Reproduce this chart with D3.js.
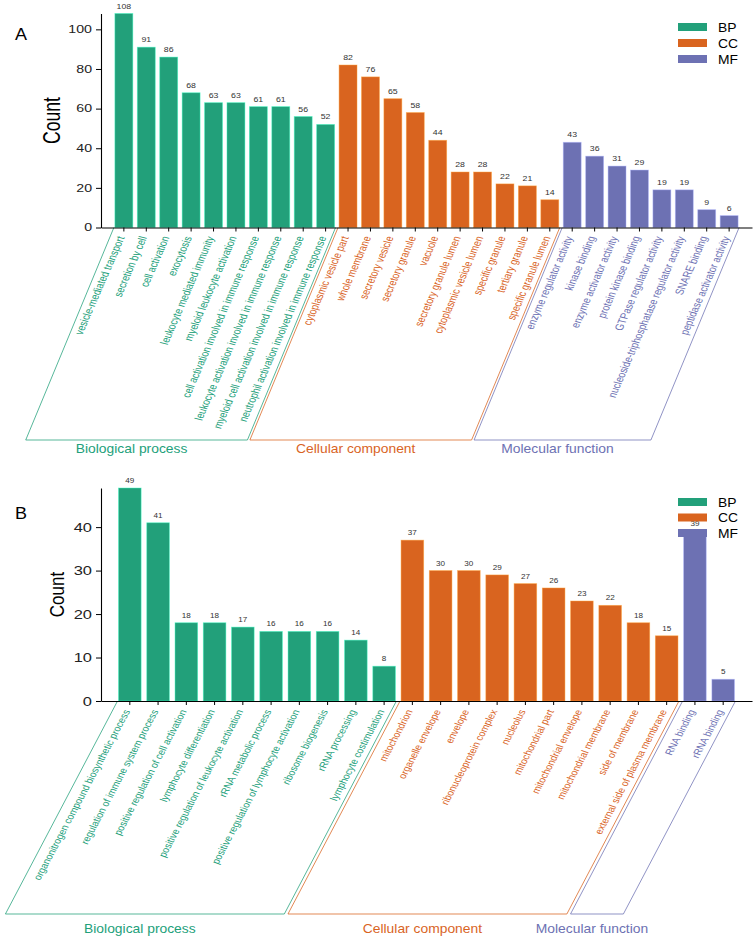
<!DOCTYPE html>
<html><head><meta charset="utf-8">
<script src="https://cdn.jsdelivr.net/npm/d3@7"></script>
<style>
body{margin:0;background:#fff}
svg{display:block}
text{font-family:"Liberation Sans",Arial,Helvetica,sans-serif}
</style>
</head><body>
<svg id="chart" width="755" height="940"></svg>
<script>
// ---------- data ----------
const groupKeys = ["BP", "CC", "MF"];
const groupNames = ["Biological process", "Cellular component", "Molecular function"];
const groupColors = ["#22a07a", "#d9641f", "#6d71b3"];

const termsA = [
  "vesicle-mediated transport", "secretion by cell", "cell activation", "exocytosis",
  "leukocyte mediated immunity", "myeloid leukocyte activation",
  "cell activation involved in immune response", "leukocyte activation involved in immune response",
  "myeloid cell activation involved in immune response", "neutrophil activation involved in immune response",
  "cytoplasmic vesicle part", "whole membrane", "secretory vesicle", "secretory granule", "vacuole",
  "secretory granule lumen", "cytoplasmic vesicle lumen", "specific granule", "tertiary granule",
  "specific granule lumen",
  "enzyme regulator activity", "kinase binding", "enzyme activator activity", "protein kinase binding",
  "GTPase regulator activity", "nucleoside-triphosphatase regulator activity", "SNARE binding",
  "peptidase activator activity"
];
const countsA = [108, 91, 86, 68, 63, 63, 61, 61, 56, 52,
                 82, 76, 65, 58, 44, 28, 28, 22, 21, 14,
                 43, 36, 31, 29, 19, 19, 9, 6];
const groupsA = ["BP","BP","BP","BP","BP","BP","BP","BP","BP","BP",
                 "CC","CC","CC","CC","CC","CC","CC","CC","CC","CC",
                 "MF","MF","MF","MF","MF","MF","MF","MF"];
const yTicksA = [0, 20, 40, 60, 80, 100];

const termsB = [
  "organonitrogen compound biosynthetic process", "regulation of immune system process",
  "positive regulation of cell activation", "lymphocyte differentiation",
  "positive regulation of leukocyte activation", "rRNA metabolic process",
  "positive regulation of lymphocyte activation", "ribosome biogenesis", "rRNA processing",
  "lymphocyte costimulation",
  "mitochondrion", "organelle envelope", "envelope", "ribonucleoprotein complex", "nucleolus",
  "mitochondrial part", "mitochondrial envelope", "mitochondrial membrane", "side of membrane",
  "external side of plasma membrane",
  "RNA binding", "rRNA binding"
];
const countsB = [49, 41, 18, 18, 17, 16, 16, 16, 14, 8,
                 37, 30, 30, 29, 27, 26, 23, 22, 18, 15,
                 39, 5];
const groupsB = ["BP","BP","BP","BP","BP","BP","BP","BP","BP","BP",
                 "CC","CC","CC","CC","CC","CC","CC","CC","CC","CC",
                 "MF","MF"];
const yTicksB = [0, 10, 20, 30, 40];

// ---------- drawing ----------
const svg = d3.select("#chart");
const color = d3.scaleOrdinal().domain(groupKeys).range(groupColors);

function drawPanel(cfg) {
  const g = svg.append("g");
  const x = d3.scaleBand().domain(cfg.terms).range([101, 752])
    .paddingInner(0.2).paddingOuter(0.62);
  const y = d3.scaleLinear().domain([0, cfg.yMax]).range([cfg.y0, cfg.yTop]);
  const bw = x.bandwidth();
  const rows = cfg.terms.map((t, i) => ({term: t, count: cfg.counts[i], group: cfg.groups[i]}));

  // brackets
  groupKeys.forEach((k, gi) => {
    const items = rows.filter(r => r.group === k);
    if (!items.length) return;
    const xl = x(items[0].term) - 1;
    const xr = x(items[items.length - 1].term) + bw + 1;
    const off = (cfg.bracketBottom - cfg.y0) / cfg.bracketSlope;
    g.append("path")
      .attr("d", `M${xl},${cfg.y0}L${xl - off},${cfg.bracketBottom}L${xr - off},${cfg.bracketBottom}L${xr},${cfg.y0}`)
      .attr("fill", "none").attr("stroke", color(k)).attr("stroke-width", 0.9).attr("stroke-opacity", 0.85);
    const cx = (xl + xr) / 2 - off - 5;
    g.append("text").text(groupNames[gi])
      .attr("transform", `translate(${cx},${cfg.groupLabelY}) scale(1.1,1)`)
      .attr("text-anchor", "middle").attr("font-size", 12.6).attr("fill", color(k));
  });

  // bars
  g.append("g").selectAll("rect").data(rows).join("rect")
    .attr("x", d => x(d.term)).attr("width", bw)
    .attr("y", d => y(d.count)).attr("height", d => cfg.y0 - y(d.count))
    .attr("fill", d => color(d.group))
    .attr("stroke", d => d3.color(color(d.group)).brighter(1.3))
    .attr("stroke-opacity", 0.55).attr("stroke-width", 0.8);

  // value labels
  g.append("g").selectAll("text").data(rows).join("text")
    .text(d => d.count)
    .attr("transform", d => `translate(${x(d.term) + bw / 2},${y(d.count) - 5}) scale(${cfg.sx},1)`)
    .attr("text-anchor", "middle").attr("font-size", 6.6).attr("fill", "#333");

  // y axis
  const yAxis = g.append("g").attr("transform", "translate(101,0)")
    .call(d3.axisLeft(y).tickValues(cfg.yTicks).tickSize(5).tickSizeOuter(0).tickPadding(4));
  yAxis.select(".domain").attr("stroke", "#000").attr("stroke-width", 1.1);
  yAxis.selectAll(".tick line").attr("stroke", "#000").attr("stroke-width", 1);
  yAxis.selectAll(".tick text")
    .attr("font-family", null).attr("font-size", cfg.tickFont).attr("fill", "#222")
    .attr("x", -9 / cfg.tickSx).attr("transform", `scale(${cfg.tickSx},1)`);

  // x axis
  const xAxis = g.append("g").attr("transform", `translate(0,${cfg.y0})`)
    .call(d3.axisBottom(x).tickSize(4).tickSizeOuter(0).tickFormat(""));
  xAxis.select(".domain").attr("stroke", "#000").attr("stroke-width", 1.1);
  xAxis.selectAll(".tick line").attr("stroke", "#000").attr("stroke-width", 1);

  // x labels
  g.append("g").selectAll("text").data(rows).join("text")
    .text(d => d.term)
    .attr("transform", d => `translate(${x(d.term) + bw / 2 - 3},${cfg.y0 + 9}) scale(${cfg.sx},1) rotate(${-cfg.labelAngle})`)
    .attr("text-anchor", "end").attr("dy", "0.35em")
    .attr("font-size", 8.8).attr("fill", d => color(d.group));

  // y title
  g.append("text").text("Count")
    .attr("transform", `translate(${cfg.titleX},${(cfg.y0 + cfg.yTop) / 2}) scale(${cfg.sx},1) rotate(-90)`)
    .attr("text-anchor", "middle").attr("font-size", cfg.titleFont).attr("fill", "#000");

  // panel letter
  g.append("text").text(cfg.letter)
    .attr("transform", `translate(15,${cfg.letterY}) scale(1.06,1)`)
    .attr("font-size", 17).attr("fill", "#000");

  // legend
  const lg = g.append("g");
  groupKeys.forEach((k, i) => {
    const ly = cfg.legendY + i * cfg.legendStep;
    lg.append("rect").attr("x", 678).attr("y", ly).attr("width", 29).attr("height", 8)
      .attr("fill", color(k));
    lg.append("text").text(k)
      .attr("transform", `translate(718,${ly + 8.5}) scale(1.1,1)`)
      .attr("font-size", 12.6).attr("fill", "#000");
  });
}

drawPanel({
  terms: termsA, counts: countsA, groups: groupsA, yTicks: yTicksA,
  yMax: 108, y0: 227.5, yTop: 13.5,
  sx: 1.33, labelAngle: 71.9, tickFont: 10.5, tickSx: 1.35,
  titleFont: 17.6, titleX: 60,
  bracketBottom: 440, bracketSlope: 2.41, groupLabelY: 452.5,
  letter: "A", letterY: 40, legendY: 23, legendStep: 16
});

drawPanel({
  terms: termsB, counts: countsB, groups: groupsB, yTicks: yTicksB,
  yMax: 49, y0: 701, yTop: 488,
  sx: 1.23, labelAngle: 66.6, tickFont: 13.5, tickSx: 1.22,
  titleFont: 17, titleX: 63.5,
  bracketBottom: 914, bracketSlope: 1.9, groupLabelY: 932.5,
  letter: "B", letterY: 519, legendY: 498, legendStep: 15.5
});
</script>
</body></html>
